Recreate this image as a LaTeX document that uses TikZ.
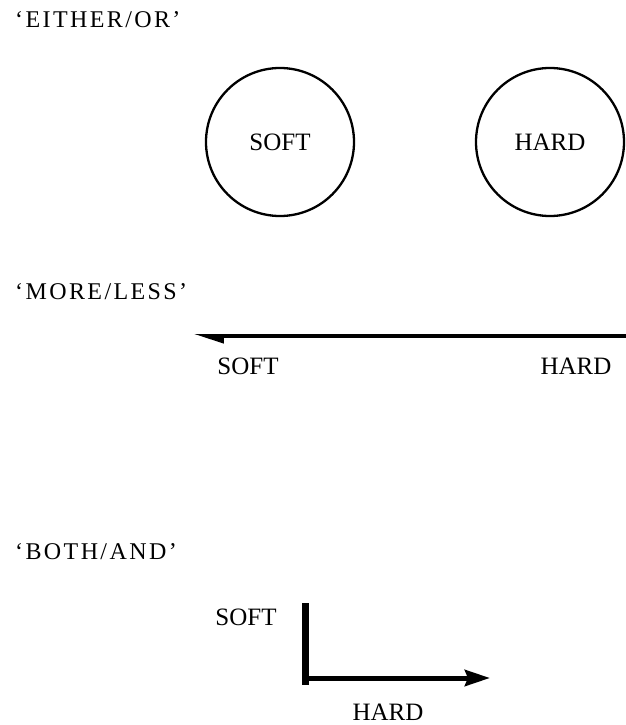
\documentclass[tikz,border=0pt]{standalone}
\usepackage{fontspec}
\setmainfont{Liberation Serif}
\newfontfamily\titlefont[Ligatures=TeX, LetterSpace=10]{Liberation Serif}
\usetikzlibrary{arrows.meta}

\begin{document}
\begin{tikzpicture}[x=1pt, y=-1pt,
    title/.style={anchor=base west, inner sep=0pt, font=\titlefont\fontsize{24}{27}\selectfont},
    label/.style={anchor=base, inner sep=0pt, font=\fontsize{25}{28}\selectfont},
    pole/.style={circle, draw, line width=2.3pt, minimum size=148pt, inner sep=0pt, font=\fontsize{25}{28}\selectfont}]
    \useasboundingbox (0,0) rectangle (625,725);

    % 見出し
    \node[title] (t1) at (15, 28) {‘EITHER/OR’};
    \node[title] (t2) at (15, 299) {‘MORE/LESS’};
    \node[title] (t3) at (15, 559) {‘BOTH/AND’};

    % ノードの定義
    \node[pole] (S1) at (280, 142) {SOFT};
    \node[pole] (H1) at (550, 142) {HARD};

    \coordinate (R2) at (626, 336);
    \coordinate (L2) at (193, 336);
    \node[label] (S2) at (248, 374) {SOFT};
    \node[label] (H2) at (576, 374) {HARD};

    \coordinate (V3) at (305, 603);
    \coordinate (B3) at (305, 685);
    \coordinate (C3) at (305, 678);
    \coordinate (E3) at (490, 678);
    \node[label] (S3) at (246, 625) {SOFT};
    \node[label] (H3) at (388, 720) {HARD};

    % 太い線を引く
    \draw[-{Triangle[harpoon, length=24pt, width=14pt]}, line width=4pt] (R2) -- (L2);
    \draw[line width=7pt] (V3) -- (B3);
    \draw[-{Stealth[length=25pt, width=16pt, inset=3pt]}, line width=5pt] (C3) -- (E3);

  \end{tikzpicture}
\end{document}
